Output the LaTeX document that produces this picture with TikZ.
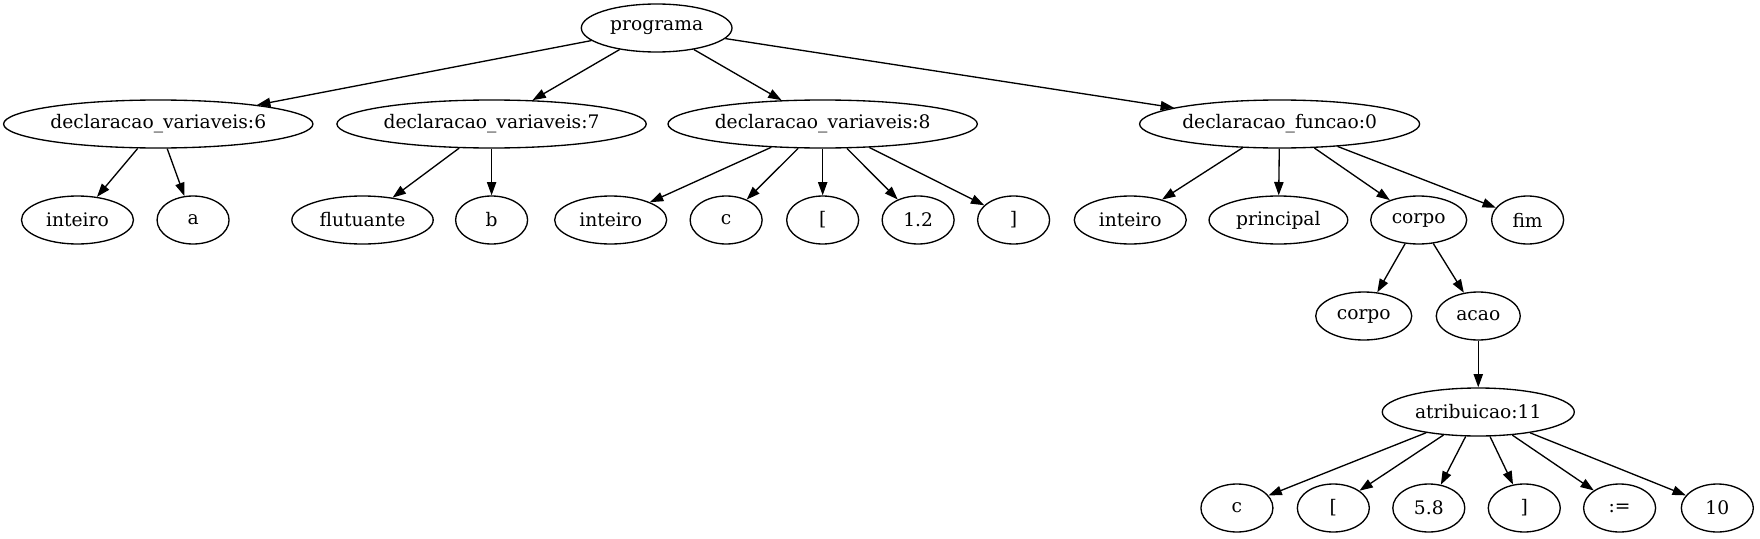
\documentclass[tikz,border=0pt]{standalone}
\usepackage{fontspec}
\setmainfont{DejaVu Serif}
\usetikzlibrary{shapes.geometric, arrows.meta}

\begin{document}
\begin{tikzpicture}[x=1pt, y=1pt, font=\fontsize{14}{16}\selectfont]
        \tikzstyle{treenode} = [ellipse, draw=black, line width=1pt, minimum height=36pt, minimum width=54pt, inner xsep=0pt, text centered]
        \tikzstyle{arrow} = [line width=1pt, -{Triangle[length=10pt, width=7pt]}]

        \useasboundingbox (0,0) rectangle (1320,-404.25);

        % Nodes
        \node (programa) [treenode, minimum width=113pt] at (492.5,-21) {programa};

        \node (decvar6) [treenode, minimum width=232pt] at (118.7,-93) {declaracao\_variaveis:6};
        \node (decvar7) [treenode, minimum width=232pt] at (368.7,-93) {declaracao\_variaveis:7};
        \node (decvar8) [treenode, minimum width=232pt] at (617,-93) {declaracao\_variaveis:8};
        \node (decfunc) [treenode, minimum width=210pt] at (959.7,-93) {declaracao\_funcao:0};

        \node (tipoA) [treenode, minimum width=84pt] at (58.1,-165) {inteiro};
        \node (varA) [treenode] at (144.8,-165) {a};
        \node (tipoB) [treenode, minimum width=106pt] at (271.9,-165) {flutuante};
        \node (varB) [treenode] at (368.7,-165) {b};
        \node (tipoC) [treenode, minimum width=84pt] at (458,-165) {inteiro};
        \node (varC) [treenode] at (544.6,-165) {c};
        \node (abreC) [treenode] at (617,-165) {[};
        \node (tamC) [treenode] at (688.6,-165) {1.2};
        \node (fechaC) [treenode] at (760.2,-165) {]};
        \node (tipoF) [treenode, minimum width=84pt] at (847.7,-165) {inteiro};
        \node (nomeF) [treenode, minimum width=104pt] at (958.8,-165) {principal};
        \node (corpoF) [treenode, minimum width=72pt] at (1064,-165) {corpo};
        \node (fimF) [treenode] at (1145.7,-165) {fim};

        \node (corpoV) [treenode, minimum width=72pt] at (1022.8,-237) {corpo};
        \node (acao) [treenode, minimum width=63pt] at (1108.7,-237) {acao};

        \node (atrib) [treenode, minimum width=144pt] at (1108.7,-309) {atribuicao:11};

        \node (varD) [treenode] at (927.7,-381) {c};
        \node (abreD) [treenode] at (1000,-381) {[};
        \node (indD) [treenode] at (1071.6,-381) {5.8};
        \node (fechaD) [treenode] at (1143.2,-381) {]};
        \node (atribOp) [treenode] at (1214.7,-381) {:=};
        \node (valorD) [treenode] at (1288,-381) {10};

        % Arrows
        \draw [arrow] (programa) -- (decvar6);
        \draw [arrow] (programa) -- (decvar7);
        \draw [arrow] (programa) -- (decvar8);
        \draw [arrow] (programa) -- (decfunc);

        \draw [arrow] (decvar6) -- (tipoA);
        \draw [arrow] (decvar6) -- (varA);
        \draw [arrow] (decvar7) -- (tipoB);
        \draw [arrow] (decvar7) -- (varB);
        \draw [arrow] (decvar8) -- (tipoC);
        \draw [arrow] (decvar8) -- (varC);
        \draw [arrow] (decvar8) -- (abreC);
        \draw [arrow] (decvar8) -- (tamC);
        \draw [arrow] (decvar8) -- (fechaC);
        \draw [arrow] (decfunc) -- (tipoF);
        \draw [arrow] (decfunc) -- (nomeF);
        \draw [arrow] (decfunc) -- (corpoF);
        \draw [arrow] (decfunc) -- (fimF);

        \draw [arrow] (corpoF) -- (corpoV);
        \draw [arrow] (corpoF) -- (acao);
        \draw [arrow] (acao) -- (atrib);

        \draw [arrow] (atrib) -- (varD);
        \draw [arrow] (atrib) -- (abreD);
        \draw [arrow] (atrib) -- (indD);
        \draw [arrow] (atrib) -- (fechaD);
        \draw [arrow] (atrib) -- (atribOp);
        \draw [arrow] (atrib) -- (valorD);

    \end{tikzpicture}
\end{document}
